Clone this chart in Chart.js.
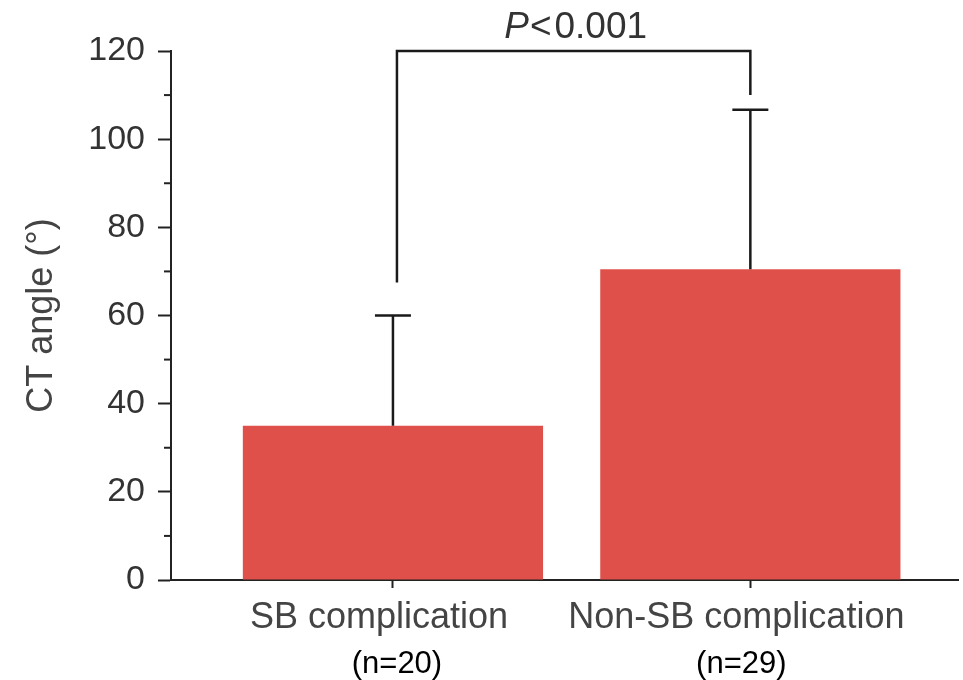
<!DOCTYPE html>
<html>
<head>
<meta charset="utf-8">
<script src="https://cdn.jsdelivr.net/npm/chart.js@4/dist/chart.umd.min.js"></script>
<style>
  html, body { margin: 0; padding: 0; background: #ffffff; }
  #wrap { width: 963px; height: 680px; }
</style>
</head>
<body>
<div id="wrap"><canvas id="c" width="963" height="680"></canvas></div>
<script>
// ---- data ----
const categories = ['SB complication', 'Non-SB complication'];
const sampleSizes = ['(n=20)', '(n=29)'];
const meanAngle = [35, 70.5];
const sdAngle = [25, 36.2];
const yTicks = [0, 20, 40, 60, 80, 100, 120];
const bracketLevels = [67.5, 120, 110]; // left end, top, right end
const pText = ['P', '<', '0.001'];

const FONT = '"Liberation Sans", Arial, Helvetica, sans-serif';
const AXIS = '#222222';

const xPositions = categories.map((_, i) => i + 1);

const overlay = {
  id: 'overlay',
  afterDatasetsDraw(chart) {
    const ctx = chart.ctx;
    const xs = chart.scales.x, ys = chart.scales.y;
    const area = chart.chartArea;
    ctx.save();
    // error bars (upper only)
    ctx.strokeStyle = '#1a1a1a';
    ctx.lineWidth = 2.5;
    meanAngle.forEach((m, i) => {
      const x = xs.getPixelForValue(xPositions[i]);
      const y0 = ys.getPixelForValue(m);
      const y1 = ys.getPixelForValue(m + sdAngle[i]);
      ctx.beginPath();
      ctx.moveTo(x, y0); ctx.lineTo(x, y1);
      ctx.moveTo(x - 18, y1); ctx.lineTo(x + 18, y1);
      ctx.stroke();
    });
    // minor ticks on y
    ctx.strokeStyle = AXIS;
    ctx.lineWidth = 2;
    for (let i = 0; i < yTicks.length - 1; i++) {
      const v = (yTicks[i] + yTicks[i + 1]) / 2;
      const y = ys.getPixelForValue(v);
      ctx.beginPath();
      ctx.moveTo(area.left - 7, y); ctx.lineTo(area.left, y);
      ctx.stroke();
    }
    // significance bracket
    const bx1 = xs.getPixelForValue(xPositions[0]) + 4;
    const bx2 = xs.getPixelForValue(xPositions[1]);
    const byL = ys.getPixelForValue(bracketLevels[0]);
    const byT = ys.getPixelForValue(bracketLevels[1]);
    const byR = ys.getPixelForValue(bracketLevels[2]);
    ctx.strokeStyle = '#1a1a1a';
    ctx.lineWidth = 2.5;
    ctx.beginPath();
    ctx.moveTo(bx1, byL); ctx.lineTo(bx1, byT); ctx.lineTo(bx2, byT); ctx.lineTo(bx2, byR);
    ctx.stroke();
    // P text
    ctx.fillStyle = '#333333';
    ctx.textBaseline = 'alphabetic';
    ctx.textAlign = 'left';
    const by = byT - 13;
    const cx = (bx1 + bx2) / 2 + 2;
    ctx.font = 'italic 37px ' + FONT;
    const wP = ctx.measureText(pText[0]).width;
    ctx.font = '37px ' + FONT;
    const wL = ctx.measureText(pText[1]).width;
    const wN = ctx.measureText(pText[2]).width;
    const gap1 = 1, gap2 = 3;
    const total = wP + gap1 + wL + gap2 + wN;
    let px = cx - total / 2;
    ctx.font = 'italic 37px ' + FONT;
    ctx.fillText(pText[0], px, by);
    px += wP + gap1;
    ctx.font = '37px ' + FONT;
    ctx.fillText(pText[1], px, by);
    px += wL + gap2;
    ctx.fillText(pText[2], px, by);
    // sample sizes
    const nudge = [4, -9];
    ctx.fillStyle = '#000000';
    ctx.textAlign = 'center';
    ctx.font = '31px ' + FONT;
    sampleSizes.forEach((s, i) => {
      ctx.fillText(s, xs.getPixelForValue(xPositions[i]) + nudge[i], 673);
    });
    ctx.restore();
  }
};

new Chart(document.getElementById('c'), {
  type: 'bar',
  data: {
    datasets: [{
      data: meanAngle.map((m, i) => ({ x: xPositions[i], y: m })),
      backgroundColor: '#E0504A',
      borderWidth: 0,
      categoryPercentage: 1,
      barPercentage: 0.84
    }]
  },
  options: {
    responsive: false,
    animation: false,
    events: [],
    layout: { padding: { top: 51, right: 5, left: 0, bottom: 0 } },
    plugins: { legend: { display: false }, tooltip: { enabled: false } },
    scales: {
      x: {
        type: 'linear',
        min: 0.379,
        max: 2.581,
        offset: false,
        afterBuildTicks(scale) { scale.ticks = xPositions.map(v => ({ value: v })); },
        afterFit(scale) { scale.height = 100; },
        grid: { display: true, offset: false, drawOnChartArea: false, tickLength: 8, color: AXIS, tickWidth: 2 },
        border: { display: true, color: AXIS, width: 2 },
        ticks: {
          autoSkip: false,
          maxRotation: 0,
          padding: 8,
          labelOffset: -14,
          color: '#444444',
          font: { family: FONT, size: 36 },
          callback: (v) => categories[v - 1] ?? ''
        }
      },
      y: {
        min: 0,
        max: 120,
        afterFit(scale) { scale.width = 171; },
        grid: {
          display: true, drawOnChartArea: false, tickLength: 13, tickWidth: 2,
          tickColor: (c) => (yTicks.includes(c.tick.value) ? AXIS : 'rgba(0,0,0,0)')
        },
        border: { display: true, color: AXIS, width: 2 },
        ticks: {
          stepSize: 20,
          autoSkip: false,
          padding: 13,
          color: '#333333',
          font: { family: FONT, size: 34 },
          callback: (v) => (yTicks.includes(v) ? String(v) : '')
        },
        title: {
          display: true,
          text: 'CT angle (°)',
          color: '#444444',
          font: { family: FONT, size: 36 },
          padding: { top: 20, bottom: 4 }
        }
      }
    }
  },
  plugins: [overlay]
});
</script>
</body>
</html>
